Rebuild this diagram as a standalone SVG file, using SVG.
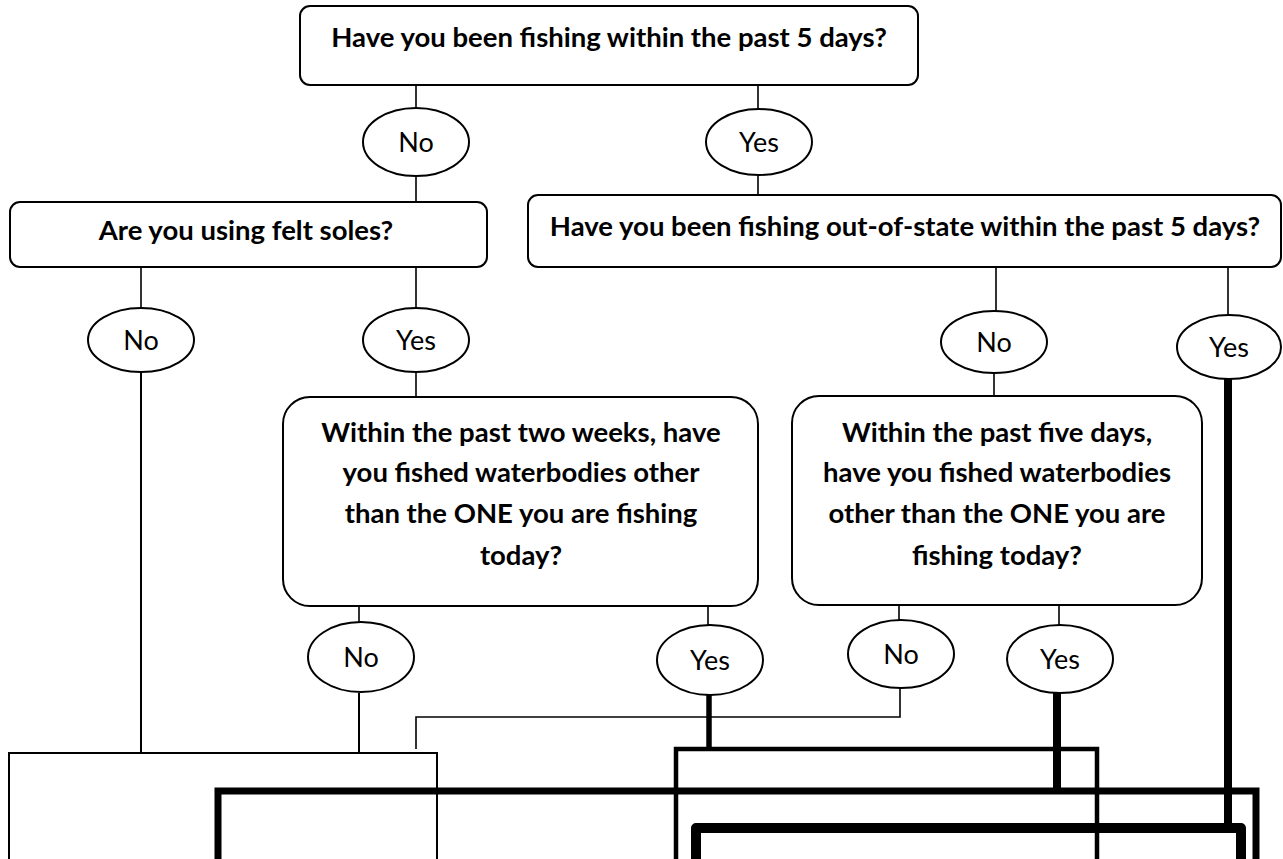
<svg xmlns="http://www.w3.org/2000/svg" width="1283" height="859" viewBox="0 0 1283 859">
<style>
.box{fill:#fff;stroke:#000;stroke-width:2}
.oval{fill:#fff;stroke:#000;stroke-width:2}
.q{font-family:Lato,"Open Sans",sans-serif;font-weight:bold;font-size:27.5px;text-anchor:middle;fill:#000}
.lbl{font-family:Lato,"Open Sans",sans-serif;font-size:27px;text-anchor:middle;fill:#000}
.c{fill:none;stroke:#000;stroke-width:1.6}
.c2{fill:none;stroke:#000;stroke-width:2}
.w4{fill:none;stroke:#000;stroke-width:4.5}
.w5{fill:none;stroke:#000;stroke-width:5.5}
.w7{fill:none;stroke:#000;stroke-width:7}
.w8{fill:none;stroke:#000;stroke-width:8}
.w10{fill:none;stroke:#000;stroke-width:10;stroke-linejoin:round}
</style>
<rect width="1283" height="859" fill="#fff"/>
<g id="connectors">
<path class="c" d="M416,85 V108 M416,177 V202"/>
<path class="c" d="M758,85 V110 M758,175 V195"/>
<path class="c" d="M141,267 V308 M416,267 V308"/>
<path class="c2" d="M141,372 V753"/>
<path class="c" d="M416,372 V397"/>
<path class="c" d="M996,267 V312 M1228,267 V315"/>
<path class="c" d="M994,373 V396"/>
<path class="c" d="M359,606 V622 M708,606 V625"/>
<path class="c2" d="M359,693 V753"/>
<path class="c" d="M899,605 V620 M1059,605 V625"/>
<path class="c" d="M416,749 V717 H900 V688"/>
<path class="c2" d="M9,862 V753 H437 V862"/>
<path class="w5" d="M709,695 V749"/>
<path class="w4" d="M676,862 V749 H1097 V862"/>
<path class="w7" d="M218,862 V791 H1256 V862"/>
<path class="w8" d="M1057,692 V791"/>
<path class="w8" d="M1228,378 V828"/>
<path class="w10" d="M696,862 V828 H1241 V862"/>
</g>
<g id="q1">
<rect class="box" x="300" y="6" width="618" height="79" rx="10"/>
<text class="q" x="609" y="47">Have you been fishing within the past 5 days?</text>
</g>
<g id="l-no1"><ellipse class="oval" cx="416" cy="142" rx="53" ry="34"/><text class="lbl" x="416" y="152">No</text></g>
<g id="l-yes1"><ellipse class="oval" cx="759" cy="142" rx="53" ry="33"/><text class="lbl" x="759" y="152">Yes</text></g>
<g id="q2">
<rect class="box" x="10" y="202" width="477" height="65" rx="10"/>
<text class="q" x="246" y="240">Are you using felt soles?</text>
</g>
<g id="q3">
<rect class="box" x="528" y="195" width="753" height="72" rx="10"/>
<text class="q" x="905" y="236">Have you been fishing out-of-state within the past 5 days?</text>
</g>
<g id="l-no2"><ellipse class="oval" cx="141" cy="340" rx="53" ry="32"/><text class="lbl" x="141" y="350">No</text></g>
<g id="l-yes2"><ellipse class="oval" cx="416" cy="340" rx="53" ry="32"/><text class="lbl" x="416" y="350">Yes</text></g>
<g id="l-no3"><ellipse class="oval" cx="994" cy="342" rx="53" ry="31"/><text class="lbl" x="994" y="352">No</text></g>
<g id="l-yes3"><ellipse class="oval" cx="1229" cy="347" rx="52" ry="32"/><text class="lbl" x="1229" y="357">Yes</text></g>
<g id="q4">
<rect class="box" x="283" y="397" width="475" height="209" rx="27"/>
<text class="q" x="521" y="442">Within the past two weeks, have</text>
<text class="q" x="521" y="482">you fished waterbodies other</text>
<text class="q" x="521" y="523">than the ONE you are fishing</text>
<text class="q" x="521" y="565">today?</text>
</g>
<g id="q5">
<rect class="box" x="792" y="396" width="410" height="209" rx="27"/>
<text class="q" x="997" y="442">Within the past five days,</text>
<text class="q" x="997" y="482">have you fished waterbodies</text>
<text class="q" x="997" y="523">other than the ONE you are</text>
<text class="q" x="997" y="565">fishing today?</text>
</g>
<g id="l-no4"><ellipse class="oval" cx="361" cy="657" rx="53" ry="35"/><text class="lbl" x="361" y="667">No</text></g>
<g id="l-yes4"><ellipse class="oval" cx="710" cy="660" rx="53" ry="35"/><text class="lbl" x="710" y="670">Yes</text></g>
<g id="l-no5"><ellipse class="oval" cx="901" cy="654" rx="53" ry="34"/><text class="lbl" x="901" y="664">No</text></g>
<g id="l-yes5"><ellipse class="oval" cx="1060" cy="659" rx="53" ry="34"/><text class="lbl" x="1060" y="669">Yes</text></g>
</svg>
